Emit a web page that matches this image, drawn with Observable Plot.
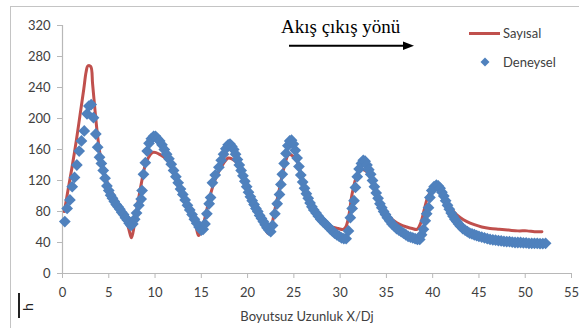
<!DOCTYPE html>
<html><head><meta charset="utf-8">
<script src="https://cdn.jsdelivr.net/npm/d3@7"></script>
<script src="https://cdn.jsdelivr.net/npm/@observablehq/plot@0.6"></script>
<style>
body{margin:0;background:#fff;}
#wrap{position:relative;width:579px;height:328px;overflow:hidden;font-family:Lato,sans-serif;color:#404040;}
#frame{position:absolute;left:10px;top:6px;width:700px;height:500px;border:1.5px solid #c4c4c4;box-sizing:border-box;}
#chart{position:absolute;left:0;top:0;}
.t{position:absolute;white-space:nowrap;line-height:14px;font-size:13px;}
</style></head>
<body>
<div id="wrap">
  <div id="frame"></div>
  <div id="chart"></div>
  <div class="t" style="left:307px;top:309px;transform:translateX(-50%);">Boyutsuz Uzunluk X/Dj</div>
  <div style="position:absolute;left:469px;top:32px;width:31px;height:3px;background:#C0504D;"></div>
  <div class="t" style="left:503px;top:26px;">Sayısal</div>
  <svg style="position:absolute;left:480px;top:57px;" width="10" height="10"><path d="M5,0.5L9.5,5L5,9.5L0.5,5Z" fill="#4F81BD"/></svg>
  <div class="t" style="left:503px;top:55px;">Deneysel</div>
  <div style="position:absolute;left:281px;top:17px;font-family:'Liberation Serif',serif;font-size:19px;line-height:19px;color:#000;white-space:nowrap;">Akış çıkış yönü</div>
  <svg style="position:absolute;left:285px;top:38px;" width="135" height="16"><line x1="4" y1="7.7" x2="120" y2="7.7" stroke="#000" stroke-width="2"/><path d="M118,3.5L129,7.7L118,11.9Z" fill="#000"/></svg>
  <div style="position:absolute;left:18px;top:293px;width:1.6px;height:25px;background:#222;"></div>
  <div style="position:absolute;left:21px;top:300px;width:14px;height:14px;font-size:14px;line-height:14px;color:#222;transform:rotate(-90deg);text-align:center;">h</div>
</div>
<script>
const xTicks = [0,5,10,15,20,25,30,35,40,45,50,55];
const yTicks = [0,40,80,120,160,200,240,280,320];

// Sayısal (numerical) – [X/Dj, h]
const sayisal = [
[0.2,80],[0.6,108],[1.0,135],[1.5,172],[1.9,205],[2.3,238],[2.55,260],[2.75,268],[3.05,267],[3.25,245],[3.5,212],[3.75,182],[4.0,158],[4.3,138],[4.7,122],[5.2,108],[5.8,95],[6.3,84],[6.8,72],[7.15,58],[7.45,46],[7.75,62],[8.1,88],[8.5,115],[8.9,138],[9.3,150],[9.7,156],[10.1,156],[10.6,153],[11.0,150],[11.5,143],[12.0,130],[12.5,114],[13.0,99],[13.5,86],[14.0,74],[14.4,62],[14.7,49],[15.0,54],[15.4,72],[15.9,98],[16.4,118],[16.9,132],[17.4,142],[17.9,149],[18.3,148],[18.9,142],[19.3,131],[19.8,114],[20.3,97],[20.8,85],[21.3,73],[21.8,62],[22.2,52],[22.5,57],[22.9,80],[23.4,107],[23.9,135],[24.4,153],[24.7,153],[25.0,150],[25.3,146],[25.6,135],[26.0,116],[26.5,98],[27.0,85],[27.6,75],[28.4,65],[29.1,60],[29.8,58],[30.3,57],[30.6,60],[30.9,72],[31.3,103],[31.8,126],[32.3,134],[32.7,133],[33.1,128],[33.6,114],[34.1,98],[34.6,85],[35.2,75],[35.8,68],[36.5,63],[37.2,60],[37.8,58],[38.3,57],[38.7,65],[39.1,83],[39.5,100],[39.9,108],[40.3,113],[40.7,110],[41.2,100],[41.8,88],[42.4,78],[43.0,72],[43.7,67],[44.5,63],[45.3,60],[46.2,58],[47.2,57],[48.2,56],[49.2,55],[50.2,55],[51.0,54],[51.8,54]
];

// Deneysel (experimental) – [X/Dj, h]
const deneysel = [
[0.25,67],[0.5,84],[0.8,95],[1.05,112],[1.3,124],[1.55,140],[1.8,158],[2.05,171],[2.35,184],[2.65,206],[2.85,216],[3.1,218],[3.35,201],[3.6,180],[3.8,163],[4.0,150],[4.2,142],[4.4,133],
[4.6,123],[4.8,113],[5.0,107],[5.2,101],[5.4,97],[5.6,93],[5.8,89],[6.0,86],[6.2,83],[6.4,79],[6.6,76],[6.8,72],[7.0,69],[7.2,65],[7.4,62],[7.6,64],
[7.8,70],[8.0,78],[8.25,88],[8.5,96],[8.6,107],[8.75,128],[8.95,143],[9.15,158],[9.35,168],[9.6,174],[9.85,177],[10.05,177],[10.25,174],
[10.5,171],[10.75,166],[11.0,160],[11.25,154],[11.5,148],[11.75,141],[12.0,133],[12.25,125],[12.5,117],[12.75,109],[13.0,102],[13.25,95],[13.5,88],[13.75,82],[14.0,76],[14.25,70],[14.5,65],[14.75,60],[15.0,56],[15.2,57],
[15.4,64],[15.6,77],[15.85,90],[16.0,98],[16.2,117],[16.5,127],[16.9,137],[17.15,146],[17.4,154],[17.65,161],[17.9,166],[18.1,167],[18.3,164],
[18.5,160],[18.7,154],[18.9,147],[19.1,140],[19.3,133],[19.5,126],[19.7,119],[19.9,112],[20.1,105],[20.3,99],[20.5,94],[20.7,89],[20.9,84],[21.1,80],[21.3,75],[21.5,71],[21.7,67],[21.9,63],[22.1,59],[22.3,56],[22.5,54],
[22.7,62],[22.95,77],[23.2,90],[23.45,102],[23.6,115],[23.75,128],[23.95,142],[24.15,155],[24.35,165],[24.55,171],[24.75,172],
[24.95,167],[25.15,159],[25.35,149],[25.55,138],[25.75,127],[25.95,118],[26.15,110],[26.35,103],[26.55,97],[26.75,91],[26.95,86],[27.15,82],[27.4,78],[27.65,74],[27.9,70],[28.15,67],[28.4,64],[28.65,61],[28.9,58],[29.15,55],[29.4,52],[29.65,50],[29.9,48],[30.15,46],[30.4,45],[30.65,45],
[30.9,55],[31.1,72],[31.3,84],[31.5,94],[31.65,111],[31.85,125],[32.05,135],[32.3,142],[32.5,146],[32.7,145],
[32.9,140],[33.1,134],[33.3,128],[33.5,120],[33.7,112],[33.9,104],[34.1,97],[34.3,90],[34.5,85],[34.7,80],[34.9,76],[35.1,72],[35.35,68],[35.6,64],[35.85,61],[36.1,58],[36.35,56],[36.6,54],[36.85,52],[37.1,50],[37.35,48],[37.6,47],[37.85,46],[38.1,45],[38.35,44],[38.6,44],
[38.8,50],[39.0,57],[39.2,68],[39.35,77],[39.55,85],[39.7,98],[39.9,107],[40.15,112],[40.4,114],[40.6,113],
[40.8,110],[41.0,105],[41.2,100],[41.4,94],[41.6,88],[41.8,83],[42.0,78],[42.2,74],[42.4,70],[42.6,67],[42.8,64],[43.0,61],[43.25,58],[43.5,56],[43.75,54],[44.0,52],[44.25,51],[44.5,50],[44.75,49],[45.0,48],[45.3,47],[45.6,46],[45.9,45],[46.2,44],[46.5,43.5],[46.8,43],[47.1,42.5],[47.4,42],[47.7,41.5],[48.0,41],[48.3,41],[48.6,40.5],[48.9,40],[49.2,40],[49.5,40],[49.8,39.5],[50.1,39.5],[50.4,39],[50.7,39],[51.0,39],[51.3,39],[51.6,38.5],[51.9,38.5],[52.2,39]
];

const axisColor = "#b8b8b8";
const plot = Plot.plot({
  width: 579, height: 328,
  marginLeft: 62, marginRight: 8, marginTop: 25, marginBottom: 55,
  style: {fontFamily: "Lato, sans-serif", fontSize: "13px", color: "#404040", background: "transparent"},
  x: {domain: [0, 55]},
  y: {domain: [0, 320]},
  marks: [
    Plot.axisY(yTicks, {tickSize: 5, tickPadding: 7, stroke: axisColor, fill: "#404040", label: null, fontSize: 13}),
    Plot.axisX(xTicks, {tickSize: 5, tickPadding: 9, stroke: axisColor, fill: "#404040", label: null, fontSize: 13}),
    Plot.ruleX([0], {stroke: axisColor, strokeWidth: 1.2}),
    Plot.ruleY([0], {stroke: axisColor, strokeWidth: 1.2}),
    Plot.line(sayisal, {x: d => d[0], y: d => d[1], stroke: "#C0504D", strokeWidth: 3, curve: "catmull-rom"}),
    Plot.dot(deneysel, {x: d => d[0], y: d => d[1], symbol: "diamond2", r: 5.3, fill: "#4F81BD", stroke: "none"})
  ]
});
document.getElementById("chart").appendChild(plot);
</script>
</body></html>
